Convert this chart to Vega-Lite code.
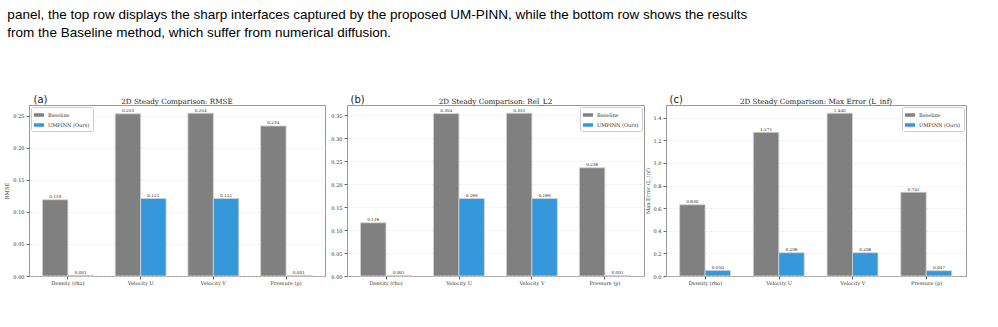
{
  "$schema": "https://vega.github.io/schema/vega-lite/v6.json",
  "background": "white",
  "padding": {"left": 4, "top": 8, "right": 5, "bottom": 5},
  "title": {
    "text": ["panel, the top row displays the sharp interfaces captured by the proposed UM-PINN, while the bottom row shows the results", "from the Baseline method, which suffer from numerical diffusion."],
    "anchor": "start",
    "frame": "bounds",
    "font": "Liberation Sans",
    "fontSize": 13.5,
    "fontWeight": "normal",
    "lineHeight": 18,
    "color": "#000000",
    "offset": 54,
    "dx": 3
  },
  "datasets": {
    "scores": [
      {"metric": "RMSE", "variable": "Density (rho)", "method": "Baseline", "value": 0.119},
      {"metric": "RMSE", "variable": "Velocity U", "method": "Baseline", "value": 0.253},
      {"metric": "RMSE", "variable": "Velocity V", "method": "Baseline", "value": 0.254},
      {"metric": "RMSE", "variable": "Pressure (p)", "method": "Baseline", "value": 0.234},
      {"metric": "RMSE", "variable": "Density (rho)", "method": "UMPINN (Ours)", "value": 0.001},
      {"metric": "RMSE", "variable": "Velocity U", "method": "UMPINN (Ours)", "value": 0.121},
      {"metric": "RMSE", "variable": "Velocity V", "method": "UMPINN (Ours)", "value": 0.121},
      {"metric": "RMSE", "variable": "Pressure (p)", "method": "UMPINN (Ours)", "value": 0.001},
      {"metric": "Rel_L2", "variable": "Density (rho)", "method": "Baseline", "value": 0.116},
      {"metric": "Rel_L2", "variable": "Velocity U", "method": "Baseline", "value": 0.354},
      {"metric": "Rel_L2", "variable": "Velocity V", "method": "Baseline", "value": 0.355},
      {"metric": "Rel_L2", "variable": "Pressure (p)", "method": "Baseline", "value": 0.236},
      {"metric": "Rel_L2", "variable": "Density (rho)", "method": "UMPINN (Ours)", "value": 0.001},
      {"metric": "Rel_L2", "variable": "Velocity U", "method": "UMPINN (Ours)", "value": 0.169},
      {"metric": "Rel_L2", "variable": "Velocity V", "method": "UMPINN (Ours)", "value": 0.169},
      {"metric": "Rel_L2", "variable": "Pressure (p)", "method": "UMPINN (Ours)", "value": 0.001},
      {"metric": "Linf", "variable": "Density (rho)", "method": "Baseline", "value": 0.630},
      {"metric": "Linf", "variable": "Velocity U", "method": "Baseline", "value": 1.271},
      {"metric": "Linf", "variable": "Velocity V", "method": "Baseline", "value": 1.440},
      {"metric": "Linf", "variable": "Pressure (p)", "method": "Baseline", "value": 0.741},
      {"metric": "Linf", "variable": "Density (rho)", "method": "UMPINN (Ours)", "value": 0.050},
      {"metric": "Linf", "variable": "Velocity U", "method": "UMPINN (Ours)", "value": 0.206},
      {"metric": "Linf", "variable": "Velocity V", "method": "UMPINN (Ours)", "value": 0.206},
      {"metric": "Linf", "variable": "Pressure (p)", "method": "UMPINN (Ours)", "value": 0.047}
    ]
  },
  "bounds": "flush",
  "spacing": 22,
  "resolve": {"scale": {"color": "independent"}, "legend": {"color": "independent"}},
  "hconcat": [
    {
      "width": 296, "height": 171,
      "data": {"name": "scores"},
      "transform": [{"filter": "datum.metric === 'RMSE'"}],
      "title": {"text": "2D Steady Comparison: RMSE"},
      "resolve": {"axis": {"x": "independent"}},
      "layer": [
        {
          "mark": {"type": "bar", "stroke": "#d4d4d4", "strokeWidth": 0.8},
          "encoding": {
            "x": {"field": "variable", "type": "nominal", "sort": ["Density (rho)", "Velocity U", "Velocity V", "Pressure (p)"], "scale": {"paddingInner": 0.3, "paddingOuter": 0.185}, "axis": {"title": null, "labelAngle": 0}},
            "xOffset": {"field": "method", "type": "nominal", "sort": ["Baseline", "UMPINN (Ours)"], "scale": {"paddingInner": 0, "paddingOuter": 0}},
            "y": {"field": "value", "type": "quantitative", "scale": {"domain": [0, 0.2667], "nice": false, "zero": true}, "axis": {"title": "RMSE", "values": [0, 0.05, 0.1, 0.15, 0.2, 0.25], "format": ".2f", "labelOverlap": false}},
            "color": {"field": "method", "type": "nominal", "scale": {"domain": ["Baseline", "UMPINN (Ours)"], "range": ["#808080", "#3498db"]}, "legend": {"orient": "top-left"}}
          }
        },
        {
          "mark": {"type": "text", "baseline": "bottom", "dy": -0.5, "font": "DejaVu Serif", "fontSize": 4.2, "color": "#333333"},
          "encoding": {
            "x": {"field": "variable", "type": "nominal", "sort": ["Density (rho)", "Velocity U", "Velocity V", "Pressure (p)"], "axis": {"orient": "top", "title": "(a)", "labels": false, "ticks": false, "domain": false, "grid": false, "titleAnchor": "start", "titleAlign": "left", "titleX": 4, "titleY": -3, "titleBaseline": "alphabetic", "titleFont": "DejaVu Sans", "titleFontSize": 10, "titleFontWeight": "normal", "titleColor": "#222222"}},
            "xOffset": {"field": "method", "type": "nominal", "sort": ["Baseline", "UMPINN (Ours)"]},
            "y": {"field": "value", "type": "quantitative", "axis": {"title": "RMSE", "values": [0, 0.05, 0.1, 0.15, 0.2, 0.25], "format": ".2f", "labelOverlap": false}},
            "text": {"field": "value", "type": "quantitative", "format": ".3f"}
          }
        }
      ]
    },
    {
      "width": 297, "height": 171,
      "data": {"name": "scores"},
      "transform": [{"filter": "datum.metric === 'Rel_L2'"}],
      "title": {"text": "2D Steady Comparison: Rel_L2"},
      "resolve": {"axis": {"x": "independent"}},
      "layer": [
        {
          "mark": {"type": "bar", "stroke": "#d4d4d4", "strokeWidth": 0.8},
          "encoding": {
            "x": {"field": "variable", "type": "nominal", "sort": ["Density (rho)", "Velocity U", "Velocity V", "Pressure (p)"], "scale": {"paddingInner": 0.3, "paddingOuter": 0.185}, "axis": {"title": null, "labelAngle": 0}},
            "xOffset": {"field": "method", "type": "nominal", "sort": ["Baseline", "UMPINN (Ours)"], "scale": {"paddingInner": 0, "paddingOuter": 0}},
            "y": {"field": "value", "type": "quantitative", "scale": {"domain": [0, 0.37275], "nice": false, "zero": true}, "axis": {"title": null, "values": [0, 0.05, 0.1, 0.15, 0.2, 0.25, 0.3, 0.35], "format": ".2f", "labelOverlap": false}},
            "color": {"field": "method", "type": "nominal", "scale": {"domain": ["Baseline", "UMPINN (Ours)"], "range": ["#808080", "#3498db"]}, "legend": {"orient": "top-right"}}
          }
        },
        {
          "mark": {"type": "text", "baseline": "bottom", "dy": -0.5, "font": "DejaVu Serif", "fontSize": 4.2, "color": "#333333"},
          "encoding": {
            "x": {"field": "variable", "type": "nominal", "sort": ["Density (rho)", "Velocity U", "Velocity V", "Pressure (p)"], "axis": {"orient": "top", "title": "(b)", "labels": false, "ticks": false, "domain": false, "grid": false, "titleAnchor": "start", "titleAlign": "left", "titleX": 3, "titleY": -3, "titleBaseline": "alphabetic", "titleFont": "DejaVu Sans", "titleFontSize": 10, "titleFontWeight": "normal", "titleColor": "#222222"}},
            "xOffset": {"field": "method", "type": "nominal", "sort": ["Baseline", "UMPINN (Ours)"]},
            "y": {"field": "value", "type": "quantitative", "axis": {"title": null, "values": [0, 0.05, 0.1, 0.15, 0.2, 0.25, 0.3, 0.35], "format": ".2f", "labelOverlap": false}},
            "text": {"field": "value", "type": "quantitative", "format": ".3f"}
          }
        }
      ]
    },
    {
      "width": 300, "height": 171,
      "data": {"name": "scores"},
      "transform": [{"filter": "datum.metric === 'Linf'"}],
      "title": {"text": "2D Steady Comparison: Max Error (L_inf)"},
      "resolve": {"axis": {"x": "independent"}},
      "layer": [
        {
          "mark": {"type": "bar", "stroke": "#d4d4d4", "strokeWidth": 0.8},
          "encoding": {
            "x": {"field": "variable", "type": "nominal", "sort": ["Density (rho)", "Velocity U", "Velocity V", "Pressure (p)"], "scale": {"paddingInner": 0.3, "paddingOuter": 0.185}, "axis": {"title": null, "labelAngle": 0}},
            "xOffset": {"field": "method", "type": "nominal", "sort": ["Baseline", "UMPINN (Ours)"], "scale": {"paddingInner": 0, "paddingOuter": 0}},
            "y": {"field": "value", "type": "quantitative", "scale": {"domain": [0, 1.512], "nice": false, "zero": true}, "axis": {"title": "Max Error (L_inf)", "values": [0, 0.2, 0.4, 0.6, 0.8, 1.0, 1.2, 1.4], "format": ".1f", "labelOverlap": false}},
            "color": {"field": "method", "type": "nominal", "scale": {"domain": ["Baseline", "UMPINN (Ours)"], "range": ["#808080", "#3498db"]}, "legend": {"orient": "top-right"}}
          }
        },
        {
          "mark": {"type": "text", "baseline": "bottom", "dy": -0.5, "font": "DejaVu Serif", "fontSize": 4.2, "color": "#333333"},
          "encoding": {
            "x": {"field": "variable", "type": "nominal", "sort": ["Density (rho)", "Velocity U", "Velocity V", "Pressure (p)"], "axis": {"orient": "top", "title": "(c)", "labels": false, "ticks": false, "domain": false, "grid": false, "titleAnchor": "start", "titleAlign": "left", "titleX": 3, "titleY": -3, "titleBaseline": "alphabetic", "titleFont": "DejaVu Sans", "titleFontSize": 10, "titleFontWeight": "normal", "titleColor": "#222222"}},
            "xOffset": {"field": "method", "type": "nominal", "sort": ["Baseline", "UMPINN (Ours)"]},
            "y": {"field": "value", "type": "quantitative", "axis": {"title": "Max Error (L_inf)", "values": [0, 0.2, 0.4, 0.6, 0.8, 1.0, 1.2, 1.4], "format": ".1f", "labelOverlap": false}},
            "text": {"field": "value", "type": "quantitative", "format": ".3f"}
          }
        }
      ]
    }
  ],
  "config": {
    "view": {"stroke": "#999999", "strokeWidth": 1},
    "title": {"font": "DejaVu Serif", "fontSize": 7.2, "fontWeight": "normal", "color": "#222222", "anchor": "middle", "offset": -11},
    "axis": {
      "labelFont": "DejaVu Serif", "labelFontSize": 5, "labelColor": "#333333",
      "titleFont": "DejaVu Serif", "titleFontSize": 5.2, "titleFontWeight": "normal", "titleColor": "#333333",
      "tickColor": "#666666", "tickSize": 3, "domain": false
    },
    "axisX": {"grid": false, "labelPadding": 1},
    "axisY": {"grid": true, "gridColor": "#dddddd", "gridDash": [2, 2], "gridWidth": 0.6, "titlePadding": 3, "labelPadding": 2},
    "legend": {
      "title": null, "labelFont": "DejaVu Serif", "labelFontSize": 5, "labelColor": "#333333",
      "symbolType": "M-1,-0.35H1V0.35H-1Z", "symbolSize": 100, "symbolStrokeWidth": 0,
      "strokeColor": "#cccccc", "fillColor": "white", "padding": 3, "cornerRadius": 2,
      "rowPadding": 2, "offset": 2, "labelOffset": 4
    }
  }
}
